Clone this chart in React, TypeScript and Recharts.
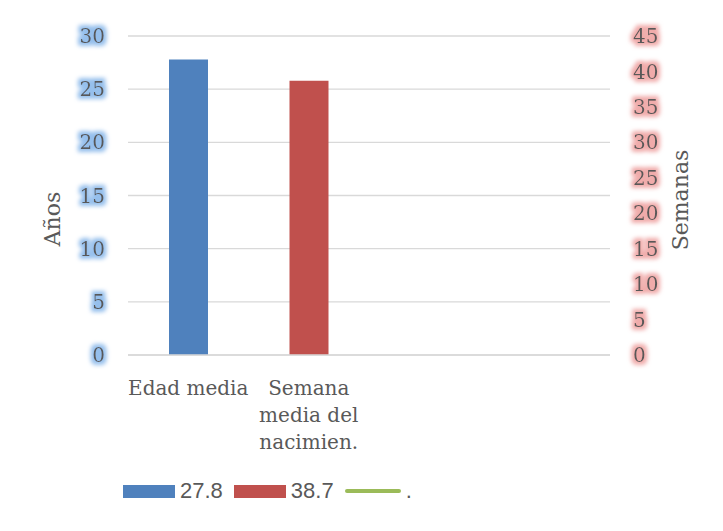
import { ComposedChart, Bar, Line, XAxis, YAxis, CartesianGrid, Legend, Label } from "recharts";

const categories = ["Edad media", "Semana media del nacimien.", "", ""];
const edadValues = [27.8, null, null, null];
const semanaValues = [null, 38.7, null, null];
const puntoValues = [null, null, null, null];
const leftTicks = [0, 5, 10, 15, 20, 25, 30];
const rightTicks = [0, 5, 10, 15, 20, 25, 30, 35, 40, 45];

const series = [
  { name: "27.8", color: "#4f81bd", type: "rect" },
  { name: "38.7", color: "#c0504d", type: "rect" },
  { name: ".", color: "#9bbb59", type: "line" },
];

const data = categories.map((cat, i) => ({
  cat,
  edad: edadValues[i],
  semana: semanaValues[i],
  punto: puntoValues[i],
}));

const TEXT = "#595959";
const SERIF = "'DejaVu Serif', serif";
const SANS = "'Liberation Sans', Arial, sans-serif";

// greedy word wrap, roughly what fits under one category slot
const wrap = (s: string, max = 10) => {
  const lines: string[] = [];
  let cur = "";
  for (const w of s.split(" ")) {
    if (cur && (cur + " " + w).length > max) {
      lines.push(cur);
      cur = w;
    } else {
      cur = cur ? cur + " " + w : w;
    }
  }
  if (cur) lines.push(cur);
  return lines;
};

const GlowTick = ({ x, y, payload, textAnchor, filter }: any) => (
  <text
    x={x}
    y={y}
    dy="0.355em"
    textAnchor={textAnchor}
    fill={TEXT}
    fontFamily={SERIF}
    fontSize={20}
    filter={`url(#${filter})`}
  >
    {payload.value}
  </text>
);

const CategoryTick = ({ x, y, payload }: any) => (
  <text x={x} y={y} textAnchor="middle" fill={TEXT} fontFamily={SERIF} fontSize={20}>
    {wrap(String(payload.value)).map((line, i) => (
      <tspan key={i} x={x} dy={i === 0 ? 14 : 27}>
        {line}
      </tspan>
    ))}
  </text>
);

const LegendContent = () => (
  <div style={{ display: "flex", alignItems: "center", fontFamily: SANS, fontSize: 22, color: TEXT }}>
    {series.map((s) => (
      <div key={s.name} style={{ display: "flex", alignItems: "center", marginRight: 11 }}>
        {s.type === "rect" ? (
          <div style={{ width: 52, height: 13, background: s.color }} />
        ) : (
          <div style={{ width: 56, height: 4, borderRadius: 2, background: s.color }} />
        )}
        <span style={{ marginLeft: 5 }}>{s.name}</span>
      </div>
    ))}
  </div>
);

export default function App() {
  return (
    <div style={{ position: "relative", width: 723, height: 531, margin: "-8px 0 0 -8px", overflow: "hidden", background: "#fff" }}>
      <svg width={0} height={0} style={{ position: "absolute" }}>
        <defs>
          <filter id="glowBlue" x="-50%" y="-50%" width="200%" height="200%">
            <feMorphology in="SourceAlpha" operator="dilate" radius={3} result="d" />
            <feGaussianBlur in="d" stdDeviation={2} result="b" />
            <feFlood floodColor="#95bfec" floodOpacity={1} />
            <feComposite in2="b" operator="in" result="g" />
            <feMerge>
              <feMergeNode in="g" />
              <feMergeNode in="SourceGraphic" />
            </feMerge>
          </filter>
          <filter id="glowRed" x="-50%" y="-50%" width="200%" height="200%">
            <feMorphology in="SourceAlpha" operator="dilate" radius={3} result="d" />
            <feGaussianBlur in="d" stdDeviation={2} result="b" />
            <feFlood floodColor="#f0abaa" floodOpacity={1} />
            <feComposite in2="b" operator="in" result="g" />
            <feMerge>
              <feMergeNode in="g" />
              <feMergeNode in="SourceGraphic" />
            </feMerge>
          </filter>
        </defs>
      </svg>
      <div style={{ position: "absolute", left: 6, top: 6, width: 800, height: 600, border: "2px solid #d9d9d9" }} />
      <div style={{ position: "absolute", left: 0, top: 0 }}>
        <ComposedChart width={723} height={531} data={data} margin={{ top: 36, right: 0, bottom: 0, left: 0 }}>
          <CartesianGrid yAxisId="left" xAxisId="a" vertical={false} stroke="#d9d9d9" strokeWidth={1.3} />
          <XAxis
            xAxisId="a"
            dataKey="cat"
            height={176}
            tickLine={false}
            tickSize={0}
            tickMargin={26}
            axisLine={{ stroke: "#d9d9d9", strokeWidth: 1.3 }}
            tick={<CategoryTick />}
            interval={0}
          />
          <XAxis xAxisId="b" dataKey="cat" hide />
          <YAxis
            yAxisId="left"
            width={128}
            domain={[0, 30]}
            ticks={leftTicks}
            tickLine={false}
            tickSize={0}
            tickMargin={23}
            axisLine={false}
            tick={<GlowTick textAnchor="end" filter="glowBlue" />}
          >
            <Label
              content={() => (
                <text x={52} y={219} transform="rotate(-90, 52, 219)" textAnchor="middle" dominantBaseline="central" fill={TEXT} fontFamily={SERIF} fontSize={22}>
                  Años
                </text>
              )}
            />
          </YAxis>
          <YAxis
            yAxisId="right"
            orientation="right"
            width={113}
            domain={[0, 45]}
            ticks={rightTicks}
            tickLine={false}
            tickSize={0}
            tickMargin={23}
            axisLine={false}
            tick={<GlowTick textAnchor="start" filter="glowRed" />}
          >
            <Label
              content={() => (
                <text x={680} y={200} transform="rotate(-90, 680, 200)" textAnchor="middle" dominantBaseline="central" fill={TEXT} fontFamily={SERIF} fontSize={22}>
                  Semanas
                </text>
              )}
            />
          </YAxis>
          <Bar xAxisId="a" yAxisId="left" dataKey="edad" name="27.8" fill="#4f81bd" barSize={39} isAnimationActive={false} />
          <Bar xAxisId="b" yAxisId="right" dataKey="semana" name="38.7" fill="#c0504d" barSize={39} isAnimationActive={false} />
          <Line xAxisId="a" yAxisId="left" dataKey="punto" name="." stroke="#9bbb59" strokeWidth={4} dot={false} isAnimationActive={false} />
          <Legend
            layout="vertical"
            align="center"
            verticalAlign="middle"
            wrapperStyle={{ left: 123, top: 478, width: 400 }}
            content={<LegendContent />}
          />
        </ComposedChart>
      </div>
    </div>
  );
}
